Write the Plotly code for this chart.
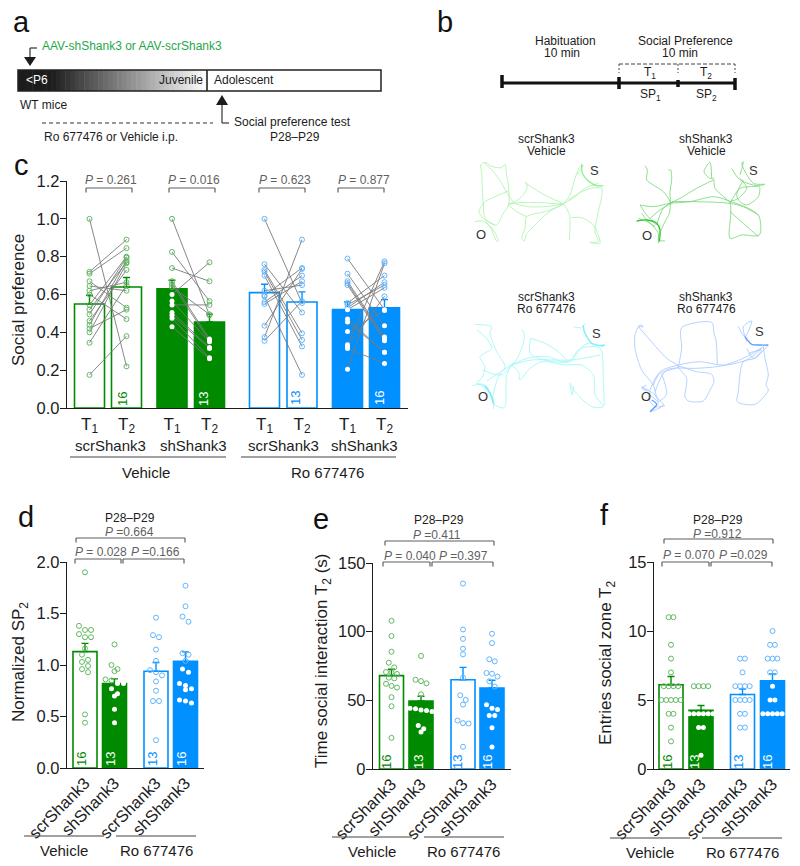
import plotly.graph_objects as go

# ---------- panel c data ----------
c_scr_veh_t1 = [1.0,.72,.71,.67,.645,.62,.60,.545,.52,.495,.46,.44,.42,.40,.345,.175]
c_scr_veh_t2 = [.22,.89,.845,.53,.62,.665,.47,.80,.77,.795,.73,.78,.52,.765,.65,.38]
c_sh_veh_t1 = [1.0,.825,.74,.67,.655,.64,.60,.565,.545,.505,.49,.475,.43]
c_sh_veh_t2 = [.49,.565,.67,.365,.355,.495,.77,.35,.545,.32,.315,.265,.26]
c_scr_ro_t1 = [1.0,.76,.73,.72,.70,.62,.595,.59,.56,.55,.435,.375,.355]
c_scr_ro_t2 = [.555,.505,.395,.36,.325,.65,.74,.175,.70,.67,.735,.89,.565]
c_sh_ro_t1 = [.79,.71,.67,.66,.65,.555,.545,.53,.52,.47,.455,.405,.335,.325,.315,.205]
c_sh_ro_t2 = [.52,.435,.375,.365,.355,.70,.65,.665,.635,.295,.295,.515,.775,.59,.235,.765]
c_means = [.55,.64,.63,.455,.61,.56,.52,.53]
c_tops = [.596,.69,.675,.496,.654,.614,.56,.573]
c_pvalues = ["0.261","0.016","0.623","0.877"]
c_ticktext = ["T<sub>1</sub>","T<sub>2</sub>"]*4

# ---------- panels d, e, f data ----------
d_scr_veh = [1.90,1.38,1.34,1.34,1.30,1.27,1.27,1.16,1.10,1.05,1.03,.99,.96,.93,.52,.44]
d_sh_veh = [1.20,1.0,.96,.94,.86,.85,.82,.82,.77,.72,.70,.57,.44]
d_scr_ro = [1.46,1.29,1.27,1.15,1.04,.95,.93,.90,.84,.75,.65,.65,.27]
d_sh_ro = [1.77,1.57,1.47,1.42,1.115,1.10,1.04,.96,.93,.82,.80,.77,.76,.66,.65,.63]
d_means = [1.13,.82,.94,1.035]
d_tops = [1.21,.865,1.024,1.127]

e_scr_veh = [107.9,96.8,85.4,77.4,74,70.6,70.4,69.2,66.5,66,62,60.5,59.3,52.3,45.7,22.7]
e_sh_veh = [82.3,65,64,62.4,54.4,44.3,43.8,43,42.6,41.9,31.7,29.3,26.9]
e_scr_ro = [135,101.6,94.8,87.6,83.5,66.5,53.7,50.3,46.9,35.3,33.4,33.1,16.2]
e_sh_ro = [98.5,91.7,79.9,78.4,69.9,69.4,67.3,63.9,60,46.7,44.3,43.3,38.9,38.9,30,16]
e_means = [68,49.5,65,59]
e_tops = [72.6,53,74,64.6]

f_scr_veh = [11,11,9,8,7,6,6,6,6,5,5,5,5,5,4,4,3,2]
f_sh_veh = [6,6,6,6,4,4,4,4,4,4,3,3,1]
f_scr_ro = [8,8,7,6,6,6,6,5,5,5,5,4,4,3,3]
f_sh_ro = [10,9,9,8,8,8,7,7,6,5,5,4,4,4,4,4]
f_means = [6.1,4.25,5.4,6.4]
f_tops = [6.7,4.6,5.8,6.88]

group_labels = ["scrShank3","shShank3","scrShank3","shShank3"]
sample_sizes = ["16","13","13","16"]
d_pvalues = ["0.664","0.028","0.166"]
e_pvalues = ["0.411","0.040","0.397"]
f_pvalues = ["0.912","0.070","0.029"]

# ---------- open-field tracks (arena units) ----------
track_scr_veh = [
 [(47,30),(60,22),(80,34),(110,38),(120,28),(124,55),(130,90),(131,150),(115,175),(95,210),(78,205),(60,190),(55,150),(52,100),(50,50),(47,30)],
 [(58,24),(85,50),(110,85),(130,120),(150,145),(190,155),(240,155),(290,148)],
 [(130,108),(90,125),(60,140),(42,170),(55,190),(90,210)],
 [(180,80),(187,95),(175,120),(150,140),(130,148),(160,143),(230,143),(295,145),(330,125),(360,100),(400,85)],
 [(183,85),(230,115),(270,135),(295,148),(312,175),(315,200),(313,255)],
 [(295,148),(280,155),(240,170),(185,185),(180,220),(170,250),(178,258),(183,240),(215,205),(260,165),(295,148)],
 [(130,150),(155,170),(185,185)],
 [(295,148),(315,120),(330,70),(345,35),(355,30),(335,60)],
 [(310,135),(350,110),(380,100),(410,100),(410,125),(400,170),(390,230),(400,260),(375,262),(405,265),(385,210),(350,188),(318,188)],
 [(30,200),(55,198),(75,215),(95,258),(100,258),(85,225),(60,200)],
]
dense_scr_veh = [[(350,28),(352,55),(370,78),(395,92),(415,92)]]
track_sh_veh = [
 [(45,32),(52,45),(50,75),(70,90),(100,110),(120,140),(118,175),(105,200),(85,255),(105,258)],
 [(115,45),(122,45),(125,75),(120,110),(122,150)],
 [(30,150),(70,155),(120,145),(180,140),(250,125),(290,135),(385,180),(388,240),(335,240),(300,250),(302,180),(300,145),(255,100),(250,70),(240,70),(222,50),(240,22),(245,70)],
 [(120,145),(150,130),(200,100),(250,75)],
 [(125,140),(200,140),(300,145),(340,155),(385,180)],
 [(30,150),(50,180),(80,210)],
 [(25,190),(60,205),(85,235),(85,265)],
 [(35,175),(55,200),(75,215)],
 [(80,210),(100,160),(130,140)],
 [(60,190),(90,165),(122,145)],
 [(305,40),(325,70),(340,80),(380,92),(405,88),(370,85),(335,25),(340,20),(330,60)],
 [(300,145),(330,100),(365,95),(388,95),(385,125),(350,150),(330,140),(320,120),(340,75)],
 [(300,170),(340,205),(385,245)],
 [(300,140),(325,130),(350,100),(330,70)],
]
dense_sh_veh = [[(20,198),(50,195),(80,205),(90,225),(88,260)]]
track_scr_ro = [
 [(30,28),(60,30),(80,35),(75,55),(95,110),(120,155),(100,185),(85,265),(118,278),(125,180),(140,150)],
 [(35,45),(60,65),(80,100),(45,125),(60,155),(50,190),(35,205),(60,210),(85,255),(85,282)],
 [(22,212),(45,208),(70,225),(88,270),(78,240),(50,212)],
 [(52,165),(110,180),(140,150),(195,128),(250,125),(290,140),(310,140)],
 [(170,42),(178,60),(170,100),(150,140),(130,155),(65,198)],
 [(140,150),(160,170),(165,195),(190,165),(230,140),(300,150),(350,150),(385,180),(390,240),(415,275),(380,275),(330,230),(315,205),(322,240),(325,215)],
 [(197,70),(195,115),(240,135),(310,140),(340,105),(370,85),(415,95)],
 [(197,70),(240,85),(280,110),(315,140),(350,100),(405,100),(415,200),(418,270)],
 [(140,150),(200,135),(320,135),(405,120)],
 [(325,35),(350,38),(362,25)],
]
dense_scr_ro = [[(355,30),(358,50),(380,85),(400,92),(420,90)], [(60,212),(75,235),(85,265)]]
track_sh_ro = [
 [(25,35),(40,35),(30,30),(15,60),(15,100),(35,165),(70,210),(80,245),(100,270),(60,290),(85,265),(60,240),(35,215),(75,240),(85,260)],
 [(25,35),(60,75),(110,130),(145,155),(90,175),(70,210)],
 [(145,155),(155,100),(155,38),(245,22),(252,55),(258,75),(262,150)],
 [(145,155),(170,190),(165,245),(175,258),(220,258),(240,225),(252,200),(245,178),(200,170),(145,155)],
 [(95,175),(110,235),(100,250),(85,260)],
 [(60,225),(90,170),(145,150),(210,140),(280,150),(350,125),(400,95)],
 [(75,230),(110,165),(200,160),(260,155),(350,135),(395,100)],
 [(325,35),(345,65),(365,18),(340,35),(350,80)],
 [(415,90),(375,130),(340,140),(325,230),(322,260),(375,268),(415,225),(408,210),(415,180),(405,130),(400,95)],
 [(50,210),(35,220),(60,230),(55,250),(75,275),(105,272)],
 [(350,100),(370,130),(395,105),(355,115)],
]
dense_sh_ro = [[(345,65),(365,88),(390,90),(415,90)], [(65,255),(80,268),(60,290)]]

# ---------- style / layout constants ----------
W, H = 800, 866
FONT = "Liberation Sans, Arial, Helvetica, sans-serif"
INK = "#1c1c1c"
GREY = "#5f5f5f"
GREEN = "#008a00"
BLUE = "#0090ff"
GREEN_PT = "#62b962"
BLUE_PT = "#62b6ff"
GREEN_TXT = "#1fa84a"

fig = go.Figure()
shapes, notes = [], []

def X(px): return px / W
def Y(py): return 1 - py / H

def text(px, py, s, size=12, color=INK, anchor="center", angle=0):
    notes.append(dict(x=X(px), y=Y(py), xref="paper", yref="paper", text=s, showarrow=False,
                      xanchor=anchor, yanchor="middle", textangle=angle,
                      font=dict(family=FONT, size=size, color=color)))

def seg(x0, y0, x1, y1, color=INK, w=1.2, dash=None):
    shapes.append(dict(type="line", xref="paper", yref="paper", x0=X(x0), y0=Y(y0), x1=X(x1), y1=Y(y1),
                       line=dict(color=color, width=w, dash=dash or "solid")))

def rect(x0, y0, x1, y1, fill, line=None, lw=0):
    shapes.append(dict(type="rect", xref="paper", yref="paper", x0=X(x0), y0=Y(y0), x1=X(x1), y1=Y(y1),
                       fillcolor=fill, line=dict(color=line or fill, width=lw)))

def tri(pts, color=INK):
    p = "M" + " L".join(f"{X(a):.5f},{Y(b):.5f}" for a, b in pts) + " Z"
    shapes.append(dict(type="path", xref="paper", yref="paper", path=p, fillcolor=color, line=dict(color=color, width=0)))

def bracket(x0, x1, y, drop=4.5, color=GREY):
    seg(x0, y + drop, x0, y, color, 1.2); seg(x0, y, x1, y, color, 1.2); seg(x1, y, x1, y + drop, color, 1.2)

def swarm(values, spacing, binh):
    groups, out = [], []
    for v in sorted(values, reverse=True):
        if groups and groups[-1][0] - v <= binh:
            groups[-1].append(v)
        else:
            groups.append([v])
    for g in groups:
        n = len(g)
        for i, v in enumerate(g):
            out.append(((i - (n - 1) / 2) * spacing, v))
    return out

AXCOUNT = [0]
def new_axes(xr, yr, x0, x1, ytop, ybot, xkw=None, ykw=None, visible=True):
    AXCOUNT[0] += 1
    n = AXCOUNT[0]
    xname, yname = f"xaxis{n}", f"yaxis{n}"
    base_x = dict(domain=[X(x0), X(x1)], range=xr, anchor=f"y{n}", showgrid=False, zeroline=False, automargin=False,
                  showline=visible, linecolor=INK, linewidth=1.3, ticks="", visible=visible,
                  tickfont=dict(family=FONT, size=16.5, color=INK))
    base_y = dict(domain=[Y(ybot), Y(ytop)], range=yr, anchor=f"x{n}", showgrid=False, zeroline=False, automargin=False,
                  showline=visible, linecolor=INK, linewidth=1.3, ticks="outside", ticklen=6, tickwidth=1.3,
                  tickcolor=INK, visible=visible, ticklabelstandoff=-3, tickfont=dict(family=FONT, size=16.5, color=INK))
    base_x.update(xkw or {}); base_y.update(ykw or {})
    fig.update_layout({xname: base_x, yname: base_y})
    return f"x{n}", f"y{n}"

def bars(ax, ay, centers, widths, means, tops, styles):
    for cx, w, m, t, (col, filled) in zip(centers, widths, means, tops, styles):
        fig.add_trace(go.Bar(x=[cx], y=[m], width=[w], xaxis=ax, yaxis=ay, showlegend=False,
                             marker=dict(color=col if filled else "white", line=dict(color=col, width=1.6)),
                             error_y=dict(type="data", symmetric=False, array=[t - m], arrayminus=[0],
                                          color=col, thickness=1.4, width=3.5)))

def points(ax, ay, xs, ys, mean, col, ptcol, filled):
    inside = [(a, b) for a, b in zip(xs, ys) if filled and b <= mean]
    outside = [(a, b) for a, b in zip(xs, ys) if not (filled and b <= mean)]
    if outside:
        fig.add_trace(go.Scatter(x=[a for a, _ in outside], y=[b for _, b in outside], xaxis=ax, yaxis=ay,
                                 mode="markers", showlegend=False, cliponaxis=False,
                                 marker=dict(symbol="circle-open", size=5, color=ptcol, line=dict(color=ptcol, width=1))))
    if inside:
        fig.add_trace(go.Scatter(x=[a for a, _ in inside], y=[b for _, b in inside], xaxis=ax, yaxis=ay,
                                 mode="markers", showlegend=False, cliponaxis=False,
                                 marker=dict(symbol="circle", size=5, color="white", line=dict(width=0))))

# ---------- panel c ----------
c_centers = [89.5, 126.5, 172, 209.5, 264.5, 302, 347.5, 384.5]
c_styles = [(GREEN, False), (GREEN, False), (GREEN, True), (GREEN, True),
            (BLUE, False), (BLUE, False), (BLUE, True), (BLUE, True)]
ax, ay = new_axes([67, 408], [0, 1.2], 67, 408, 181, 408,
                  xkw=dict(tickmode="array", tickvals=c_centers, ticktext=c_ticktext,
                           tickfont=dict(family=FONT, size=17, color=INK)),
                  ykw=dict(tickmode="array", tickvals=[0, .2, .4, .6, .8, 1.0, 1.2], ticktext=["0.0","0.2","0.4","0.6","0.8","1.0","1.2"]))
bars(ax, ay, c_centers, [30] * 8, c_means, c_tops, c_styles)
c_pairs = [(c_scr_veh_t1, c_scr_veh_t2), (c_sh_veh_t1, c_sh_veh_t2), (c_scr_ro_t1, c_scr_ro_t2), (c_sh_ro_t1, c_sh_ro_t2)]
for i, (t1, t2) in enumerate(c_pairs):
    lx, ly = [], []
    for a, b in zip(t1, t2):
        lx += [c_centers[2 * i], c_centers[2 * i + 1], None]; ly += [a, b, None]
    fig.add_trace(go.Scatter(x=lx, y=ly, xaxis=ax, yaxis=ay, mode="lines", showlegend=False,
                             line=dict(color="#7a7a7a", width=0.9)))
for i, (t1, t2) in enumerate(c_pairs):
    col, filled = c_styles[2 * i]
    pt = GREEN_PT if col == GREEN else BLUE_PT
    points(ax, ay, [c_centers[2 * i]] * len(t1), t1, c_means[2 * i], col, pt, filled)
    points(ax, ay, [c_centers[2 * i + 1]] * len(t2), t2, c_means[2 * i + 1], col, pt, filled)
for x0, x1, p, tx in [(86, 132, c_pvalues[0], 111), (169, 215, c_pvalues[1], 194),
                      (259, 305, c_pvalues[2], 285), (338, 384, c_pvalues[3], 364)]:
    bracket(x0, x1, 188)
    text(tx, 180, f"<i>P</i> = {p}", 12, GREY)
for tx, s in zip([110, 193, 283, 364], group_labels):
    text(tx, 445, s, 15)
seg(70, 457, 226, 457, "#444", 1.1); seg(241, 457, 396, 457, "#444", 1.1)
text(146, 472, "Vehicle", 15); text(327, 472, "Ro 677476", 15)
text(18, 300, "Social preference", 17, angle=-90)
text(122, 399, sample_sizes[0], 13, GREEN, angle=-90)
text(203, 399, sample_sizes[1], 13, "white", angle=-90)
text(295, 398, sample_sizes[2], 13, BLUE, angle=-90)
text(379, 398, sample_sizes[3], 13, "white", angle=-90)

# ---------- panels d, e, f ----------
panels = [
 dict(yx=67, end=204, top=562, base=768, ymax=2.0, ticks=[0, .5, 1, 1.5, 2], tt=["0.0","0.5","1.0","1.5","2.0"],
      centers=[85, 114.5, 156, 185.5], vals=[d_scr_veh, d_sh_veh, d_scr_ro, d_sh_ro], means=d_means, tops=d_tops,
      spacing=6, binh=.055, title="Normalized SP<sub>2</sub>", tx=20, ty=662, nx=[81, 110, 152, 181], ny=759,
      pv=d_pvalues, b1=(76, 185, 538), b2=(75, 121, 559), b3=(123, 184, 559), pt=(130, 518), p0=(129, 532), p1=(101, 552), p2=(155, 552),
      l1=(24, 104), l2=(116, 196), ly=836, vx=64, rx=156),
 dict(yx=373, end=511, top=563, base=769, ymax=150, ticks=[0, 50, 100, 150], tt=["0","50","100","150"],
      centers=[391.5, 421, 463, 492], vals=[e_scr_veh, e_sh_veh, e_scr_ro, e_sh_ro], means=e_means, tops=e_tops,
      spacing=5.5, binh=4, title="Time social interaction T<sub>2</sub> (s)", tx=323, ty=661, nx=[386, 418, 457, 487], ny=762,
      pv=e_pvalues, b1=(385, 494, 541), b2=(383, 430, 562), b3=(432, 493, 562), pt=(439, 520), p0=(437, 535), p1=(410, 556), p2=(463, 556),
      l1=(332, 412), l2=(424, 504), ly=837, vx=372, rx=463),
 dict(yx=654, end=790, top=562, base=769, ymax=15, ticks=[0, 5, 10, 15], tt=["0","5","10","15"],
      centers=[671, 701, 742.5, 772.5], vals=[f_scr_veh, f_sh_veh, f_scr_ro, f_sh_ro], means=f_means, tops=f_tops,
      spacing=4.8, binh=.1, title="Entries social zone T<sub>2</sub>", tx=607, ty=663, nx=[667, 694, 738, 767], ny=762,
      pv=f_pvalues, b1=(664, 773, 539), b2=(662, 709, 562), b3=(711, 772, 562), pt=(718, 520), p0=(717, 534), p1=(689, 555), p2=(743, 555),
      l1=(610, 690), l2=(702, 782), ly=838, vx=650, rx=742),
]
styles4 = [(GREEN, False), (GREEN, True), (BLUE, False), (BLUE, True)]
for P in panels:
    ax, ay = new_axes([P["yx"], P["end"]], [0, P["ymax"]], P["yx"], P["end"], P["top"], P["base"],
                      xkw=dict(tickmode="array", tickvals=P["centers"], ticktext=group_labels, tickangle=-45, ticklabelstandoff=-2),
                      ykw=dict(tickmode="array", tickvals=P["ticks"], ticktext=P["tt"]))
    bars(ax, ay, P["centers"], [24] * 4, P["means"], P["tops"], styles4)
    for cx, v, m, (col, filled) in zip(P["centers"], P["vals"], P["means"], styles4):
        sw = swarm(v, P["spacing"], P["binh"])
        points(ax, ay, [cx + o for o, _ in sw], [b for _, b in sw], m, col,
               GREEN_PT if col == GREEN else BLUE_PT, filled)
    bracket(P["b1"][0], P["b1"][1], P["b1"][2])
    bracket(P["b2"][0], P["b2"][1], P["b2"][2])
    bracket(P["b3"][0], P["b3"][1], P["b3"][2])
    text(P["pt"][0], P["pt"][1], "P28–P29", 12)
    text(P["p0"][0], P["p0"][1], f"<i>P</i> ={P['pv'][0]}", 12, GREY)
    text(P["p1"][0], P["p1"][1], f"<i>P</i> = {P['pv'][1]}", 12, GREY)
    text(P["p2"][0], P["p2"][1], f"<i>P</i> ={P['pv'][2]}", 12, GREY)
    seg(P["l1"][0], P["ly"], P["l1"][1], P["ly"], "#444", 1.1)
    seg(P["l2"][0], P["ly"], P["l2"][1], P["ly"], "#444", 1.1)
    text(P["vx"], P["ly"] + 14, "Vehicle", 15)
    text(P["rx"], P["ly"] + 14, "Ro 677476", 15)
    text(P["tx"], P["ty"], P["title"], 17, angle=-90)
    for nx, s, (col, filled) in zip(P["nx"], sample_sizes, styles4):
        text(nx, P["ny"], s, 13, "white" if filled else col, angle=-90)

# ---------- tracks ----------
tracks = [
 (track_scr_veh, dense_scr_veh, 465, 155, "#a8f2a8", "#8eec8e"),
 (track_sh_veh, dense_sh_veh, 630, 155, "#74d674", "#30c830"),
 (track_scr_ro, dense_scr_ro, 465, 315, "#9af5f7", "#70f2f6"),
 (track_sh_ro, dense_sh_ro, 630, 315, "#a3c6ff", "#5f9cff"),
]
for tr, dense, ox, oy, col, dcol in tracks:
    ax, ay = new_axes([0, 480], [345, 0], ox, ox + 160, oy, oy + 115, visible=False)
    for lines, c, lw in [(tr, col, 0.8), (dense, dcol, 1.3)]:
        tx, ty = [], []
        for line in lines:
            tx += [p[0] for p in line] + [None]; ty += [p[1] for p in line] + [None]
        fig.add_trace(go.Scatter(x=tx, y=ty, xaxis=ax, yaxis=ay, mode="lines", showlegend=False,
                                 line=dict(color=c, width=lw, shape="spline", smoothing=0.8)))

text(546, 139, "scrShank3", 12); text(546, 151, "Vehicle", 12)
text(706, 139, "shShank3", 12); text(706, 151, "Vehicle", 12)
text(546, 297, "scrShank3", 12); text(546, 309, "Ro 677476", 12)
text(706, 297, "shShank3", 12); text(706, 309, "Ro 677476", 12)
for sx, sy, ox_, oy_ in [(594, 171, 481, 234), (753, 170, 647, 235), (596, 333, 483, 397), (759, 332, 646, 397)]:
    text(sx, sy, "S", 13, "#333"); text(ox_, oy_, "O", 13, "#333")

# ---------- panel letters ----------
for s, lx, ly in [("a", 21, 22), ("b", 445, 22), ("c", 21, 165), ("d", 26, 517), ("e", 321, 519), ("f", 604, 515)]:
    text(lx, ly, s, 29, "#111")

# ---------- panel a schematic ----------
STEPS = 40
for i in range(STEPS):
    x0 = 18 + (207 - 18) * i / STEPS
    x1 = 18 + (207 - 18) * (i + 1) / STEPS + 0.5
    t = max(0, (x0 - 48) / (205 - 48))
    v = int(28 + (255 - 28) * t)
    rect(x0, 70, min(x1, 207), 91, f"rgb({v},{v},{v})")
shapes.append(dict(type="rect", xref="paper", yref="paper", x0=X(18), y0=Y(70), x1=X(381), y1=Y(91),
                   line=dict(color="#222", width=1.5), fillcolor="rgba(0,0,0,0)"))
seg(207, 70, 207, 91, "#222", 1.6)
text(37, 80, "&lt;P6", 12, "white"); text(181, 80, "Juvenile", 12); text(244, 80, "Adolescent", 12)
tri([(24, 57), (36, 57), (30, 66)])
seg(30, 57, 30, 48, "#333", 1.2); seg(30, 48, 37, 48, "#333", 1.2)
text(40, 46, "AAV-shShank3 or AAV-scrShank3", 12, GREEN_TXT, anchor="left")
text(18, 105, "WT mice", 12, anchor="left")
seg(42, 123, 213, 123, "#333", 1, "4px,3px")
text(42, 137, "Ro 677476 or Vehicle i.p.", 12, anchor="left")
tri([(216, 105), (228, 105), (222, 95)])
seg(222, 105, 222, 123, "#333", 1.2); seg(222, 123, 229, 123, "#333", 1.2)
text(232, 122, "Social preference test", 12, anchor="left")
text(295, 137, "P28–P29", 12)

# ---------- panel b schematic ----------
seg(502, 83, 735, 83, "#111", 3)
seg(502, 75, 502, 88, "#111", 3.5); seg(619, 77, 619, 89, "#111", 3.5)
seg(678, 80, 678, 87, "#111", 3.5); seg(735, 78, 735, 90, "#111", 3.5)
seg(619, 64, 735, 64, "#444", 1, "4px,2px")
seg(619, 64, 619, 73, "#444", 1, "2px,2px"); seg(678, 64, 678, 73, "#444", 1, "2px,2px"); seg(735, 64, 735, 73, "#444", 1, "2px,2px")
text(565, 41, "Habituation", 12); text(562, 53, "10 min", 12)
text(685, 41, "Social Preference", 12); text(680, 53, "10 min", 12)
text(650, 73, "T<sub>1</sub>", 12); text(706, 73, "T<sub>2</sub>", 12)
text(650, 95, "SP<sub>1</sub>", 12); text(706, 95, "SP<sub>2</sub>", 12)

fig.update_layout(width=W, height=H, margin=dict(l=0, r=0, t=0, b=0), autosize=False,
                  paper_bgcolor="white", plot_bgcolor="rgba(0,0,0,0)", barmode="overlay",
                  showlegend=False, shapes=shapes, annotations=notes,
                  font=dict(family=FONT, color=INK))
fig.write_html("out.html", config=dict(displayModeBar=False),
               post_script="document.body.style.margin='0';")
